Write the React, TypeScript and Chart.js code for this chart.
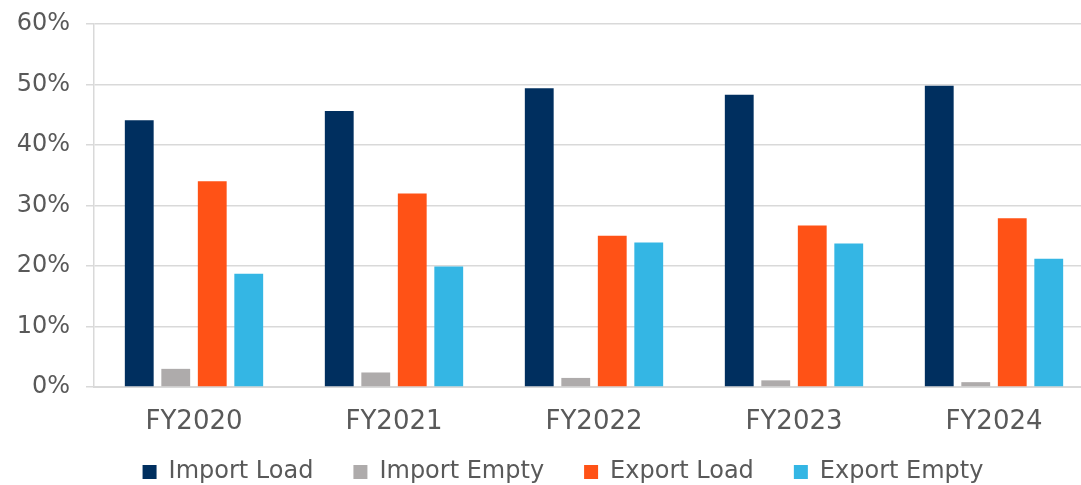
import React, { useEffect, useRef } from "react";
import { Chart, registerables } from "chart.js";

Chart.register(...registerables);

const categories = ["FY2020", "FY2021", "FY2022", "FY2023", "FY2024"];
const importLoad = [44.1, 45.6, 49.4, 48.3, 49.8];
const importEmpty = [3.0, 2.4, 1.5, 1.1, 0.8];
const exportLoad = [34.0, 32.0, 25.0, 26.7, 27.9];
const exportEmpty = [18.7, 19.9, 23.9, 23.7, 21.2];
const seriesNames = ["Import Load", "Import Empty", "Export Load", "Export Empty"];
const seriesColors = ["#002F5F", "#AEABAB", "#FF5216", "#34B6E4"];
const yTicks = [0, 10, 20, 30, 40, 50, 60];

const FONT = "'DejaVu Sans', sans-serif";
const TEXT = "#595959";

const adjustPlugin = {
  id: "adjustBoxes",
  afterLayout(chart: any) {
    const x = chart.scales.x;
    if (x) x.bottom = x.top + 70;
    const lg = chart.legend;
    if (lg) {
      lg.top += 9;
      lg.bottom += 9;
      lg.left += 16;
      lg.right += 16;
    }
  },
};

export default function App() {
  const ref = useRef<HTMLCanvasElement | null>(null);
  useEffect(() => {
    if (!ref.current) return;
    const values = [importLoad, importEmpty, exportLoad, exportEmpty];
    const chart = new Chart(ref.current, {
      type: "bar",
      data: {
        labels: categories,
        datasets: values.map((v, i) => ({
          label: seriesNames[i],
          data: v,
          backgroundColor: seriesColors[i],
          borderWidth: 0,
          categoryPercentage: 0.73,
          barPercentage: 0.79,
        })),
      },
      plugins: [adjustPlugin],
      options: {
        animation: false,
        responsive: false,
        maintainAspectRatio: false,
        layout: { padding: { top: 24, left: 0, right: 6, bottom: 0 } },
        plugins: {
          tooltip: { enabled: false },
          legend: {
            position: "bottom",
            labels: {
              boxWidth: 14,
              boxHeight: 14,
              padding: 40,
              color: TEXT,
              font: { family: FONT, size: 24 },
            },
          },
        },
        scales: {
          x: {
            grid: { display: false, drawTicks: false },
            border: { display: true, color: "#d9d9d9", width: 2 },
            ticks: { color: TEXT, font: { family: FONT, size: 26 }, padding: 20 },
            afterFit: (s: any) => {
              s.height = 24;
            },
          },
          y: {
            min: 0,
            max: 60,
            afterBuildTicks: (s: any) => {
              s.ticks = yTicks.map((v) => ({ value: v }));
            },
            grid: { color: "#d9d9d9", lineWidth: 1.5, tickLength: 8 },
            border: { display: true, color: "#d9d9d9", width: 1.5 },
            ticks: {
              color: TEXT,
              font: { family: FONT, size: 24 },
              padding: 16,
              callback: (v: any) => v + "%",
            },
            afterFit: (s: any) => {
              s.width = 94;
              s.paddingTop = 12;
              s.paddingBottom = 12;
            },
          },
        },
      },
    });
    return () => chart.destroy();
  }, []);
  return (
    <div
      style={{
        position: "fixed",
        left: 0,
        top: 0,
        width: 1081,
        height: 485,
        overflow: "hidden",
        background: "#fff",
      }}
    >
      <canvas ref={ref} width={1100} height={485} style={{ width: 1100, height: 485, display: "block" }} />
    </div>
  );
}
